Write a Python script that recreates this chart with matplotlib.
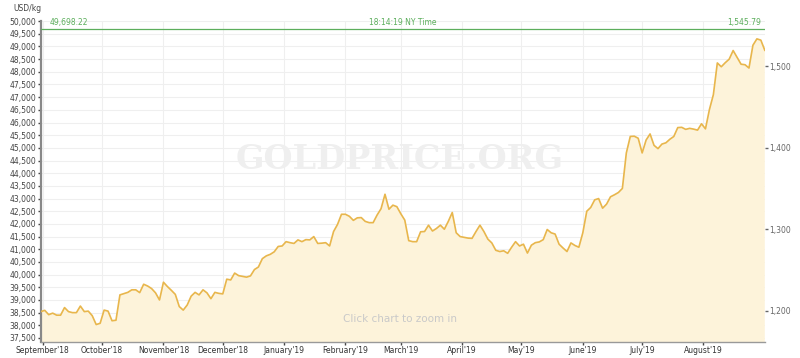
"""
Gold price in USD/kg, Sep 2018 - Aug 2019, in the goldprice.org chart style.
"""

import pandas as pd
import matplotlib
matplotlib.use("Agg")
import matplotlib.pyplot as plt
import matplotlib.dates as mdates
from matplotlib.ticker import FuncFormatter

# values, one every 2 days from 2018-08-31
prices = [
    38540, 38590, 38420, 38480, 38400, 38400, 38700, 38540, 38500, 38500,
    38760, 38540, 38560, 38380, 38030, 38080, 38600, 38560, 38180, 38200,
    39200, 39250, 39300, 39400, 39400, 39290, 39620, 39550, 39450, 39280,
    39000, 39700, 39530, 39380, 39220, 38740, 38600, 38800, 39150, 39300,
    39200, 39400, 39280, 39050, 39300, 39260, 39240, 39820,
    39790, 40060, 39960, 39930, 39900, 39950, 40200, 40300, 40630, 40740,
    40800, 40900, 41110, 41130, 41300, 41260, 41230, 41370, 41300, 41380,
    41370, 41500, 41230, 41240, 41260, 41130, 41700, 41980, 42380, 42380,
    42300, 42140, 42240, 42250, 42100, 42050, 42050, 42350, 42600, 43170,
    42580, 42740, 42680, 42400, 42150, 41340, 41300, 41300,
    41690, 41700, 41950, 41720, 41820, 41950, 41790, 42100, 42450, 41650,
    41500, 41470, 41440, 41430, 41700, 41950, 41700, 41400, 41250, 40960,
    40910, 40940, 40840, 41080, 41300, 41130, 41200, 40850, 41160, 41260,
    41290, 41380, 41780, 41650, 41600, 41200, 41050, 40910, 41250, 41150,
    41080, 41650, 42500, 42650, 42950, 43000, 42620, 42780,
    43070, 43150, 43240, 43400, 44800, 45450, 45460, 45380, 44800, 45310,
    45550, 45100, 44970, 45150, 45200, 45340, 45450, 45800, 45810, 45730,
    45770, 45740, 45700, 45950, 45750, 46510, 47100, 48350, 48200, 48360,
    48500, 48840, 48570, 48300, 48280, 48150, 49050, 49300, 49250, 48850,
]
dates = pd.date_range("2018-08-31", periods=len(prices), freq="2D")
month_ticks = pd.date_range("2018-09-01", "2019-08-01", freq="MS")

current_price = 49698.22
current_oz = 1545.79
time_label = "18:14:19 NY Time"
oz_ticks = [1200, 1300, 1400, 1500]
GRAMS_PER_OZ = 31.1035

LINE_COLOR = "#e8b64c"
FILL_COLOR = "#fdf3da"
GREEN = "#5cae5c"
TEXT_COLOR = "#444444"

fig = plt.figure(figsize=(8, 3.58), dpi=100)
ax = fig.add_axes([0.051, 0.046, 0.905, 0.895])

ax.fill_between(dates, prices, 0, color=FILL_COLOR, lw=0, zorder=1)
ax.plot(dates, prices, color=LINE_COLOR, lw=1.2, zorder=3)

y_min, y_max = 37360, 50000
ax.set_ylim(y_min, y_max)
ax.set_xlim(pd.Timestamp("2018-08-31"), dates[-1])

# grid
ax.set_yticks(range(37500, 50001, 500))
ax.yaxis.set_major_formatter(FuncFormatter(lambda v, p: f"{int(v):,}"))
ax.set_xticks(month_ticks)
ax.xaxis.set_major_formatter(mdates.DateFormatter("%B'%y"))
ax.grid(True, color="#efefef", lw=0.8, zorder=0)
ax.set_axisbelow(True)

ax.tick_params(axis="y", labelsize=5.5, colors=TEXT_COLOR, length=2.5, width=1, pad=1)
ax.tick_params(axis="x", labelsize=5.5, colors=TEXT_COLOR, length=2.5, width=1, pad=1)
for lab in ax.get_xticklabels():
    lab.set_color("#333333")

ax.spines["top"].set_visible(False)
ax.spines["right"].set_visible(False)
ax.spines["left"].set_color("#888888")
ax.spines["left"].set_linewidth(1.6)
ax.spines["bottom"].set_color("#999999")
ax.spines["bottom"].set_linewidth(1.0)

# right axis in USD/oz
ax2 = ax.twinx()
ax2.set_ylim(y_min / 1000 * GRAMS_PER_OZ, y_max / 1000 * GRAMS_PER_OZ)
ax2.set_yticks(oz_ticks)
ax2.yaxis.set_major_formatter(FuncFormatter(lambda v, p: f"{int(v):,}"))
ax2.tick_params(axis="y", labelsize=5.5, colors="#666666", length=2.5, width=1, pad=1)
for side in ["top", "right", "left", "bottom"]:
    ax2.spines[side].set_visible(False)

# current price line and labels
ax.axhline(current_price, color=GREEN, lw=0.9, zorder=4)
ax.text(0.012, current_price + 60, f"{current_price:,.2f}", transform=ax.get_yaxis_transform(),
        color=GREEN, fontsize=5.5, va="bottom", ha="left")
ax.text(0.5, current_price + 60, time_label, transform=ax.get_yaxis_transform(),
        color=GREEN, fontsize=5.5, va="bottom", ha="center")
ax.text(0.995, current_price + 60, f"{current_oz:,.2f}", transform=ax.get_yaxis_transform(),
        color=GREEN, fontsize=5.5, va="bottom", ha="right")

# watermark and hint
fig.text(0.5, 0.555, "GOLDPRICE.ORG", fontsize=24, family="DejaVu Serif", fontweight="bold",
         color="#efefef", ha="center", va="center", zorder=2)
fig.text(0.5, 0.108, "Click chart to zoom in", fontsize=7.5, color="#c9c9c9",
         ha="center", va="center")
fig.text(0.017, 0.975, "USD/kg", fontsize=5.5, color=TEXT_COLOR, ha="left", va="center")

fig.savefig("out.png", dpi=100)
